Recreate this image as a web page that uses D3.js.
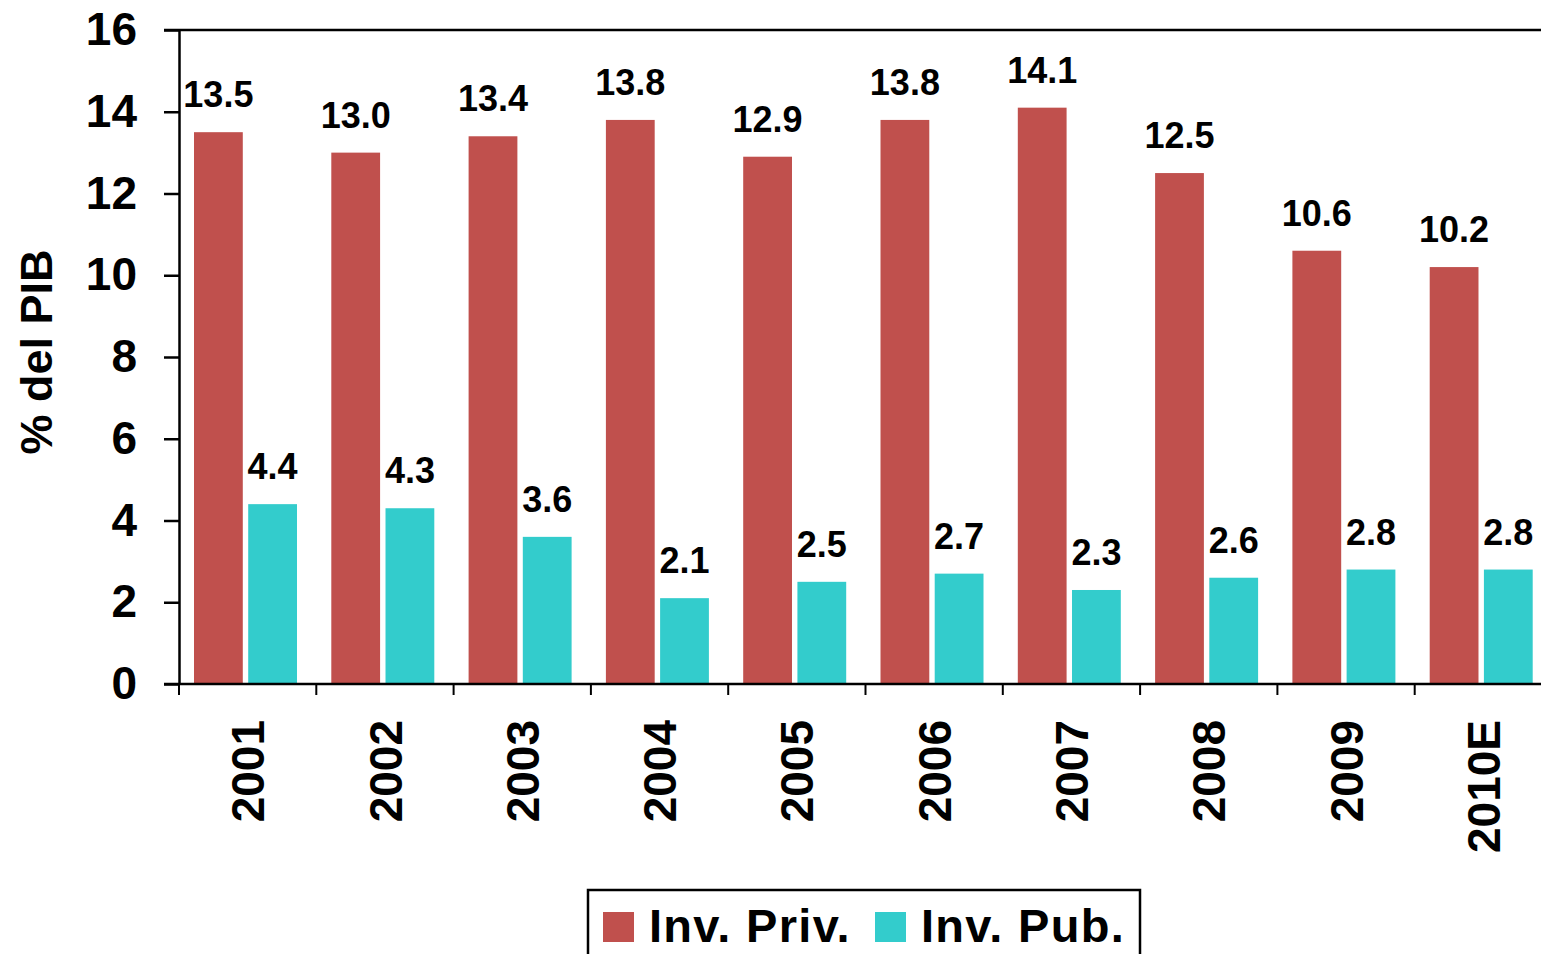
<!DOCTYPE html>
<html>
<head>
<meta charset="utf-8">
<script src="https://cdn.jsdelivr.net/npm/d3@7"></script>
<style>
  body { margin: 0; background: #fff; }
  text { font-family: "Liberation Sans", Arial, sans-serif; font-weight: bold; fill: #000; }
</style>
</head>
<body>
<div id="chart"></div>
<script>
// data
const years = ["2001", "2002", "2003", "2004", "2005", "2006", "2007", "2008", "2009", "2010E"];
const invPriv = [13.5, 13.0, 13.4, 13.8, 12.9, 13.8, 14.1, 12.5, 10.6, 10.2];
const invPub = [4.4, 4.3, 3.6, 2.1, 2.5, 2.7, 2.3, 2.6, 2.8, 2.8];
const seriesNames = ["Inv. Priv.", "Inv. Pub."];
const colors = ["#C0504D", "#33CCCC"];
const yTicks = [0, 2, 4, 6, 8, 10, 12, 14, 16];

const W = 1541, H = 954;
const plotLeft = 179, plotTop = 30, plotBottom = 684;
const step = 137.3; // plot runs past the right edge of the window

const svg = d3.select("#chart").append("svg").attr("width", W).attr("height", H);

const x = d3.scaleBand().domain(years).range([plotLeft, plotLeft + step * years.length]);
const xs = d3.scaleBand().domain([0, 1]).range([15, 118]).paddingInner(0.1);
const y = d3.scaleLinear().domain([0, 16]).range([plotBottom, plotTop]);

const rows = years.map((yr, i) => ({year: yr, vals: [invPriv[i], invPub[i]]}));

// bars
const g = svg.selectAll(".cat").data(rows).enter().append("g")
  .attr("transform", d => `translate(${x(d.year)},0)`);

g.selectAll("rect").data(d => d.vals).enter().append("rect")
  .attr("x", (d, i) => xs(i))
  .attr("width", xs.bandwidth())
  .attr("y", d => y(d))
  .attr("height", d => y(0) - y(d))
  .attr("fill", (d, i) => colors[i]);

g.selectAll(".val").data(d => d.vals).enter().append("text")
  .attr("class", "val")
  .attr("x", (d, i) => xs(i) + xs.bandwidth() / 2)
  .attr("y", d => y(d) - 25)
  .attr("text-anchor", "middle")
  .style("font-size", "36px")
  .text(d => d.toFixed(1));

// y axis
const yAxis = d3.axisLeft(y).tickValues(yTicks).tickSize(15).tickPadding(27).tickSizeOuter(0);
const ya = svg.append("g").attr("transform", `translate(${plotLeft},0)`).call(yAxis);
ya.select(".domain").attr("stroke", "#000").attr("stroke-width", 2.5);
ya.selectAll(".tick line").attr("stroke", "#000").attr("stroke-width", 2.5);
ya.selectAll(".tick text").style("font-size", "46px").attr("font-family", null);

// top and bottom frame lines
svg.append("line").attr("x1", plotLeft - 15).attr("x2", W).attr("y1", y(16)).attr("y2", y(16))
  .attr("stroke", "#000").attr("stroke-width", 2.5);
svg.append("line").attr("x1", plotLeft - 15).attr("x2", W).attr("y1", y(0)).attr("y2", y(0))
  .attr("stroke", "#000").attr("stroke-width", 2.5);

// x ticks at category boundaries
const bounds = years.map(d => x(d)).concat([x(years[years.length - 1]) + x.bandwidth()]);
svg.selectAll(".xt").data(bounds).enter().append("line")
  .attr("x1", d => d).attr("x2", d => d)
  .attr("y1", y(0)).attr("y2", y(0) + 11)
  .attr("stroke", "#000").attr("stroke-width", 2);

svg.selectAll(".xl").data(years).enter().append("text")
  .attr("transform", d => `translate(${x(d) + x.bandwidth() / 2},720) rotate(-90)`)
  .attr("text-anchor", "end")
  .attr("dy", "0.36em")
  .style("font-size", "46px")
  .text(d => d);

// y title
svg.append("text")
  .attr("transform", "translate(52,352) rotate(-90)")
  .attr("text-anchor", "middle")
  .style("font-size", "45px")
  .text("% del PIB");

// legend
const lg = svg.append("g");
lg.append("rect").attr("x", 588).attr("y", 890).attr("width", 552).attr("height", 90)
  .attr("fill", "none").attr("stroke", "#000").attr("stroke-width", 2.5);
const legX = [603, 875];
seriesNames.forEach((s, i) => {
  lg.append("rect").attr("x", legX[i]).attr("y", 912).attr("width", 31).attr("height", 30)
    .attr("fill", colors[i]);
  lg.append("text").attr("x", legX[i] + 46).attr("y", 942)
    .style("font-size", "47px").style("letter-spacing", "1.3px").text(s);
});
</script>
</body>
</html>
